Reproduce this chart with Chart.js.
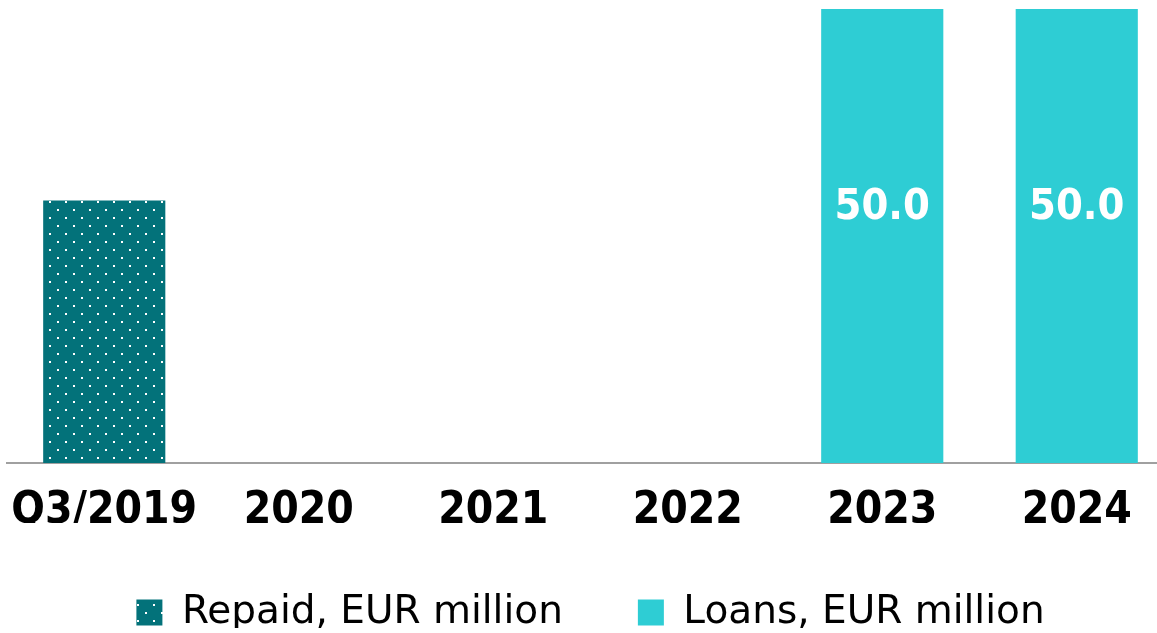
<!DOCTYPE html>
<html>
<head>
<meta charset="utf-8">
<script src="https://cdn.jsdelivr.net/npm/chart.js@4"></script>
<style>
  html, body { margin: 0; padding: 0; background: #fff; overflow: hidden; }
  #wrap { position: relative; width: 1175px; height: 633px; }
</style>
</head>
<body>
<div id="wrap"><canvas id="loans_chart"></canvas></div>
<script>
// data
const categories = ['Q3/2019', '2020', '2021', '2022', '2023', '2024'];
const repaid = [28.9, null, null, null, null, null];
const loans = [null, null, null, null, 50.0, 50.0];
const seriesNames = ['Repaid, EUR million', 'Loans, EUR million'];

const tealColor = '#03727a';
const cyanColor = '#2ecdd4';

// dotted fill for the repaid bar
function dotPattern() {
    let tile = document.createElement('canvas');
    tile.width = 16;
    tile.height = 16;
    let c = tile.getContext('2d');
    c.fillStyle = tealColor;
    c.fillRect(0, 0, 16, 16);
    c.fillStyle = '#ffffff';
    c.fillRect(1, 9, 2, 2);
    c.fillRect(9, 1, 2, 2);
    return c.createPattern(tile, 'repeat');
}

// white value labels inside the loans bars
const valueLabels = {
    id: 'valueLabels',
    afterDatasetsDraw(chart) {
        let ctx = chart.ctx;
        let meta = chart.getDatasetMeta(1);
        ctx.save();
        ctx.fillStyle = '#ffffff';
        ctx.font = "bold 43px 'DejaVu Sans Condensed', 'DejaVu Sans'";
        ctx.textAlign = 'center';
        ctx.textBaseline = 'middle';
        meta.data.forEach(function (bar, i) {
            let v = loans[i];
            if (v === null) return;
            ctx.fillText(v.toFixed(1), bar.x, bar.y + 199);
        });
        ctx.restore();
    }
};

// keep the legend height fixed while using wide item spacing,
// and lift the legend row a little
const legendHeight = {
    id: 'legendHeight',
    beforeInit(chart) {
        let fit = chart.legend.fit;
        chart.legend.fit = function () {
            fit.call(this);
            this.height = 110;
        };
        let draw = chart.legend.draw;
        chart.legend.draw = function () {
            this.ctx.save();
            this.ctx.translate(0, -5);
            draw.call(this);
            this.ctx.restore();
        };
    }
};

let ctx = document.getElementById('loans_chart').getContext('2d');
let myChart = new Chart(ctx, {
    type: 'bar',
    data: {
        labels: categories,
        datasets: [
            {
                label: seriesNames[0],
                data: repaid,
                backgroundColor: dotPattern(),
                borderWidth: 0
            },
            {
                label: seriesNames[1],
                data: loans,
                backgroundColor: cyanColor,
                borderWidth: 0
            }
        ]
    },
    options: {
        responsive: true,
        maintainAspectRatio: false,
        animation: false,
        devicePixelRatio: 1,
        layout: { padding: { left: 7, top: 9, right: 1, bottom: 0 } },
        datasets: {
            bar: { grouped: false, barPercentage: 0.628, categoryPercentage: 1 }
        },
        scales: {
            x: {
                afterFit(scale) {
                    scale.height = 60;
                    scale.paddingLeft = 0;
                    scale.paddingRight = 0;
                },
                grid: { display: false, drawTicks: false },
                border: { display: true, color: '#a0a0a0', width: 2 },
                ticks: {
                    color: '#000000',
                    padding: 22,
                    maxRotation: 0,
                    autoSkip: false,
                    font: { family: "'DejaVu Sans Condensed', 'DejaVu Sans'", weight: 'bold', size: 44 }
                }
            },
            y: {
                display: false,
                min: 0,
                max: 50
            }
        },
        plugins: {
            tooltip: { enabled: false },
            legend: {
                position: 'bottom',
                labels: {
                    color: '#000000',
                    boxWidth: 26,
                    boxHeight: 26,
                    padding: 75,
                    font: { family: "'DejaVu Sans'", size: 39 }
                }
            }
        }
    },
    plugins: [valueLabels, legendHeight]
});
</script>
</body>
</html>
